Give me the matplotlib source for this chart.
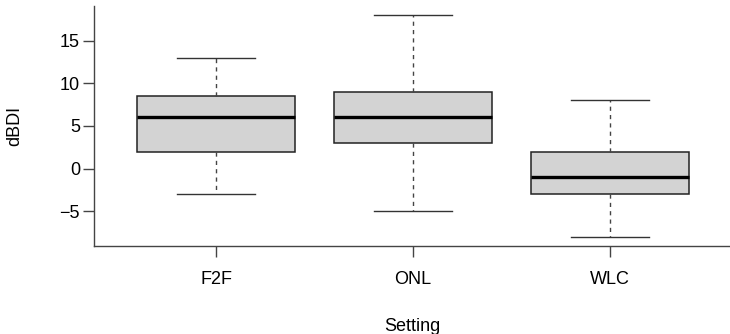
import matplotlib
matplotlib.use("Agg")
import matplotlib.pyplot as plt

settings = ["F2F", "ONL", "WLC"]
whisker_lo = [-3, -5, -8]
q1 = [2, 3, -3]
medians = [6, 6, -1]
q3 = [8.5, 9, 2]
whisker_hi = [13, 18, 8]

plt.rcParams['font.family'] = ['Liberation Sans', 'DejaVu Sans']

fig = plt.figure(figsize=(7.3, 3.34), dpi=100)
ax = fig.add_axes([94/730, 88/334, 636/730, 240/334])

stats = []
for i in range(len(settings)):
    stats.append({"label": settings[i], "whislo": whisker_lo[i], "q1": q1[i],
                  "med": medians[i], "q3": q3[i], "whishi": whisker_hi[i], "fliers": []})

ax.bxp(stats, positions=[1, 2, 3], widths=0.8, patch_artist=True, showfliers=False,
       boxprops=dict(facecolor="#d3d3d3", edgecolor="#222222", linewidth=1.1),
       medianprops=dict(color="black", linewidth=2.4, solid_capstyle="butt"),
       whiskerprops=dict(color="#444444", linewidth=1.0, linestyle=(0, (3, 3))),
       capprops=dict(color="#333333", linewidth=1.0),
       capwidths=0.4)

ax.set_xlim(0.38, 3.61)
ax.set_ylim(-9.1, 19.1)
ax.set_yticks([-5, 0, 5, 10, 15])
ax.set_yticklabels(["\u22125", "0", "5", "10", "15"])
ax.set_xticks([1, 2, 3])
ax.set_xticklabels(settings)

for s in ["top", "right"]:
    ax.spines[s].set_visible(False)
for s in ["left", "bottom"]:
    ax.spines[s].set_color("#444444")
    ax.spines[s].set_linewidth(1.0)

ax.tick_params(axis="both", length=8, width=1.0, color="#444444", labelsize=13)
ax.tick_params(axis="x", pad=10)
ax.tick_params(axis="y", pad=2)
ax.set_xlabel("Setting", fontsize=13)
ax.set_ylabel("dBDI", fontsize=13)
ax.xaxis.set_label_coords(0.5, -0.30)
ax.yaxis.set_label_coords(-0.112, 0.5)

fig.savefig("out.png", dpi=100)
